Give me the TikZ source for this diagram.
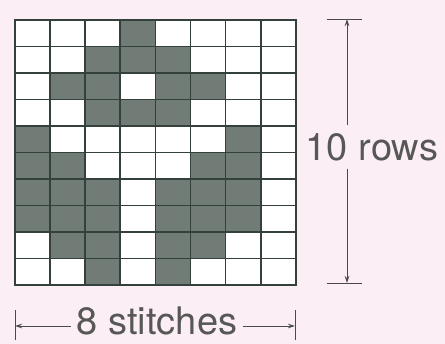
\documentclass[tikz,border=0pt]{standalone}
\usepackage{fontspec}
\setmainfont{TeX Gyre Heros}
\usetikzlibrary{arrows.meta}

\definecolor{paper}{HTML}{FBEFF5}
\definecolor{gridline}{HTML}{34403B}
\definecolor{stitch}{HTML}{727C77}
\definecolor{dimline}{HTML}{4A4A4A}
\definecolor{dimtext}{HTML}{575757}

\begin{document}
\begin{tikzpicture}[
                x=1pt, y=-1pt,
                cell/.style={
                        draw=gridline, line width=1.7pt,
                        minimum width=35.1pt, minimum height=26.5pt,
                        inner sep=0pt
                    },
                s0/.style={fill=white},
                s1/.style={fill=stitch},
                dim/.style={draw=dimline, line width=0.9pt},
                dimarrow/.style={dim, -{Stealth[length=7pt, width=4.5pt]}},
                label/.style={
                        text=dimtext, inner xsep=6pt, inner ysep=1pt,
                        font=\fontsize{38}{42}\selectfont
                    }
            ]

            \fill[paper] (0, 0) rectangle (445, 344);
            \useasboundingbox (0, 0) rectangle (445, 344);

            % Chart, one list per row, top row first
            \foreach \row [count=\r] in {
                    {0,0,0,1,0,0,0,0},
                    {0,0,1,1,1,0,0,0},
                    {0,1,1,0,1,1,0,0},
                    {0,0,1,1,1,0,0,0},
                    {1,0,0,0,0,0,1,0},
                    {1,1,0,0,0,1,1,0},
                    {1,1,1,0,1,1,1,0},
                    {1,1,1,0,1,1,1,0},
                    {0,1,1,0,1,1,0,0},
                    {0,0,1,0,1,0,0,0}} {
                    \foreach \v [count=\k] in \row {
                            \node[cell, s\v] (c-\r-\k)
                            at (15 + 35.1*\k - 17.55, 20 + 26.5*\r - 13.25) {};
                        }
                }

            % Rows
            \coordinate (rt) at (347, 19);
            \coordinate (rb) at (347, 283);
            \node[label, inner ysep=8pt] (rows) at (372, 147) {10 rows};
            \draw[dim] ([xshift=-20pt]rt) -- ([xshift=15pt]rt);
            \draw[dim] ([xshift=-20pt]rb) -- ([xshift=15pt]rb);
            \draw[dimarrow] (rows.north -| rt) -- (rt);
            \draw[dimarrow] (rows.south -| rt) -- (rb);

            % Stitches
            \coordinate (sl) at (15, 326);
            \coordinate (sr) at (295, 326);
            \node[label] (stitches) at (157, 321) {8 stitches};
            \draw[dim] ([yshift=-14pt]sl) -- ([yshift=16pt]sl);
            \draw[dim] ([yshift=-14pt]sr) -- ([yshift=16pt]sr);
            \draw[dimarrow] (stitches.west |- sl) -- (sl);
            \draw[dimarrow] (stitches.east |- sr) -- (sr);

        \end{tikzpicture}
\end{document}
